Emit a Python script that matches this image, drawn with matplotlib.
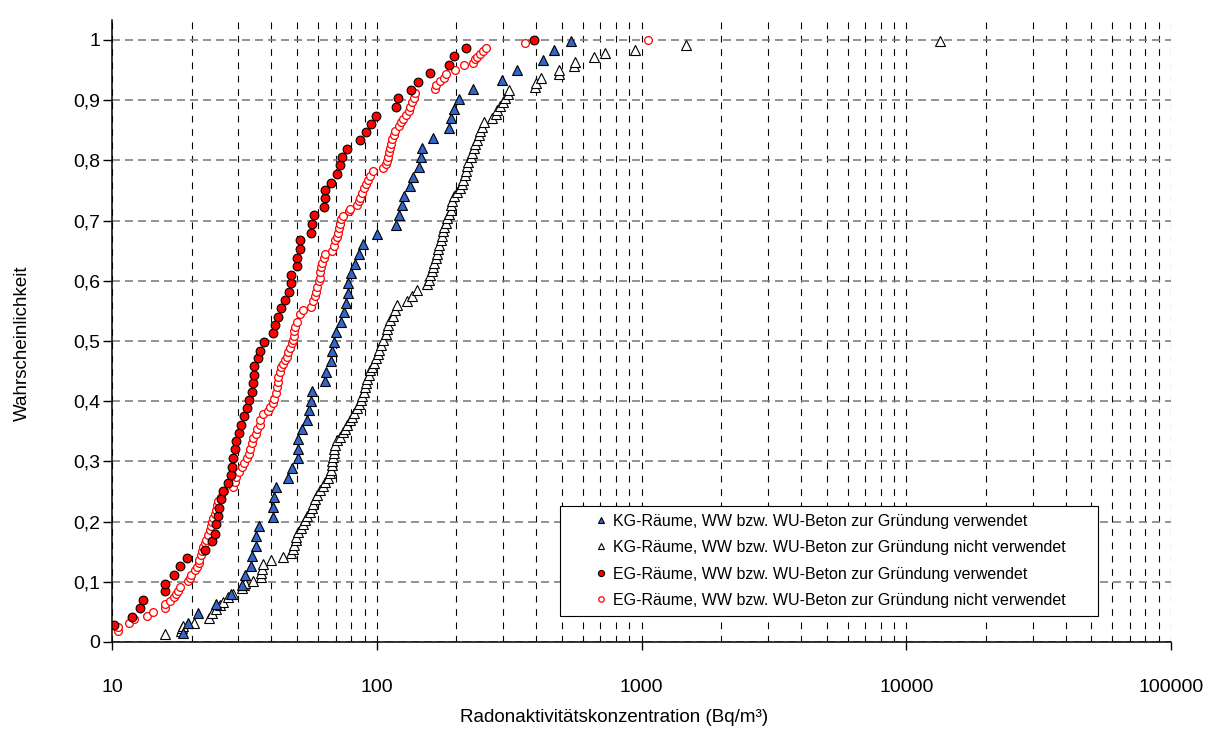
import matplotlib.pyplot as plt
from matplotlib.ticker import FixedLocator, FixedFormatter, LogLocator, NullFormatter

plt.rcParams['font.family'] = ['Liberation Sans', 'DejaVu Sans']

# KG-Räume, WW bzw. WU-Beton verwendet (blaue Dreiecke)
kg_ww_x = [18.5, 19.3, 21.2, 24.7, 28.1, 31.1, 31.8, 33.5, 33.7, 34.9,
           35.1, 36.0, 40.6, 40.7, 41.0, 41.8, 46.2, 47.7, 50.2, 50.2,
           50.4, 52.4, 54.7, 55.6, 56.4, 56.9, 63.7, 64.3, 67.2, 68.0,
           69.1, 70.3, 73.4, 75.4, 76.7, 77.8, 78.2, 80.1, 82.7, 85.9,
           88.7, 100, 118, 121, 125, 127, 134, 137, 145, 147,
           148, 163, 188, 190, 196, 204, 231, 297, 340, 424,
           468, 542]
kg_ww_y = [0.015, 0.031, 0.048, 0.063, 0.080, 0.095, 0.111, 0.127, 0.143, 0.160,
           0.176, 0.192, 0.208, 0.224, 0.240, 0.257, 0.273, 0.289, 0.305, 0.321,
           0.337, 0.353, 0.369, 0.385, 0.401, 0.417, 0.433, 0.449, 0.466, 0.483,
           0.499, 0.515, 0.531, 0.548, 0.563, 0.580, 0.597, 0.612, 0.628, 0.645,
           0.661, 0.677, 0.693, 0.709, 0.725, 0.741, 0.757, 0.773, 0.789, 0.805,
           0.821, 0.837, 0.854, 0.870, 0.886, 0.902, 0.918, 0.933, 0.950, 0.966,
           0.983, 0.998]

# KG-Räume, nicht verwendet (offene Dreiecke)
kg_nww_x = [15.9, 18.2, 18.4, 18.6, 20.4, 23.3, 23.9, 24.8, 25.5, 26.3,
            27.4, 28.6, 30.9, 31.4, 31.8, 34.2, 36.4, 36.6, 36.9, 37.1,
            39.7, 44.1, 47.6, 48.3, 48.8, 49.4, 49.7, 50.6, 51.7, 52.6,
            53.7, 54.7, 56.0, 56.7, 57.5, 58.5, 59.7, 61.1, 62.6, 63.9,
            65.7, 66.7, 67.2, 67.5, 68.0, 68.4, 68.9, 69.2, 69.7, 70.9,
            72.8, 74.4, 76.0, 77.4, 79.2, 80.9, 82.3, 83.9, 85.6, 87.0,
            88.3, 89.4, 90.5, 91.2, 91.8, 93.1, 94.5, 96.3, 98.0, 99.6,
            101, 102, 104, 106, 108, 109, 110, 112, 115, 117,
            119, 130, 136, 142, 155, 157, 159, 161, 163, 165,
            167, 169, 170, 172, 175, 176, 178, 179, 182, 184,
            187, 190, 191, 192, 195, 201, 207, 210, 212, 215,
            218, 219, 222, 226, 229, 232, 236, 239, 243, 246,
            250, 255, 273, 281, 285, 293, 299, 306, 312, 317,
            395, 401, 418, 487, 490, 555, 563, 660, 731, 949, 1479, 13420]
kg_nww_y = [0.013, 0.018, 0.023, 0.027, 0.032, 0.040, 0.048, 0.055, 0.061, 0.066,
            0.075, 0.080, 0.090, 0.095, 0.098, 0.101, 0.108, 0.115, 0.122, 0.129,
            0.137, 0.141, 0.148, 0.154, 0.161, 0.169, 0.175, 0.183, 0.189, 0.196,
            0.203, 0.209, 0.216, 0.223, 0.230, 0.237, 0.244, 0.252, 0.259, 0.266,
            0.272, 0.280, 0.286, 0.294, 0.300, 0.307, 0.314, 0.321, 0.328, 0.335,
            0.341, 0.348, 0.354, 0.361, 0.368, 0.374, 0.381, 0.388, 0.395, 0.402,
            0.409, 0.416, 0.423, 0.430, 0.436, 0.443, 0.451, 0.457, 0.464, 0.471,
            0.478, 0.485, 0.493, 0.502, 0.512, 0.520, 0.527, 0.534, 0.542, 0.551,
            0.559, 0.567, 0.575, 0.585, 0.594, 0.601, 0.609, 0.616, 0.622, 0.630,
            0.637, 0.645, 0.652, 0.660, 0.667, 0.674, 0.682, 0.689, 0.696, 0.704,
            0.711, 0.718, 0.726, 0.733, 0.740, 0.747, 0.754, 0.761, 0.768, 0.776,
            0.783, 0.790, 0.798, 0.805, 0.812, 0.820, 0.827, 0.834, 0.842, 0.849,
            0.856, 0.864, 0.871, 0.877, 0.883, 0.890, 0.896, 0.903, 0.910, 0.916,
            0.922, 0.929, 0.937, 0.943, 0.950, 0.957, 0.964, 0.972, 0.978, 0.984, 0.991, 0.998]

# EG-Räume, verwendet (rote Punkte)
eg_ww_x = [10.2, 11.9, 12.8, 13.1, 15.8, 15.8, 17.1, 18.0, 19.2, 22.5,
           23.9, 24.4, 24.7, 25.1, 25.4, 25.8, 26.2, 27.5, 28.2, 28.5,
           28.7, 29.2, 29.4, 30.3, 30.7, 31.4, 32.4, 32.8, 33.8, 34.2,
           34.4, 34.5, 35.6, 36.1, 37.4, 40.7, 41.2, 42.3, 43.3, 45.1,
           46.7, 47.4, 47.5, 50.0, 50.0, 51.1, 51.1, 56.5, 56.9, 58.0,
           63.3, 64.0, 64.0, 67.1, 70.9, 72.8, 73.6, 77.2, 86.1, 90.7,
           94.8, 99.3, 117.8, 119.9, 134.7, 143.2, 158.9, 186.8, 196.3, 217.4,
           391.5]
eg_ww_y = [0.029, 0.042, 0.056, 0.070, 0.084, 0.097, 0.111, 0.126, 0.139, 0.153,
           0.167, 0.180, 0.196, 0.209, 0.223, 0.237, 0.250, 0.264, 0.277, 0.291,
           0.306, 0.320, 0.333, 0.347, 0.361, 0.375, 0.388, 0.402, 0.416, 0.430,
           0.444, 0.458, 0.472, 0.484, 0.498, 0.513, 0.527, 0.540, 0.554, 0.568,
           0.582, 0.596, 0.609, 0.624, 0.638, 0.653, 0.667, 0.680, 0.694, 0.709,
           0.722, 0.737, 0.750, 0.763, 0.778, 0.792, 0.805, 0.819, 0.833, 0.847,
           0.860, 0.874, 0.889, 0.903, 0.916, 0.930, 0.945, 0.959, 0.973, 0.987,
           1.0]

# EG-Räume, nicht verwendet (offene rote Kreise)
eg_nww_x = [10.5, 10.5, 11.6, 12.1, 13.5, 14.3, 15.8, 15.9, 16.5, 17.2,
            17.5, 17.7, 18.1, 19.4, 19.7, 19.8, 20.6, 20.9, 21.3, 21.4,
            21.7, 21.8, 22.1, 22.5, 22.7, 23.1, 23.5, 23.6, 23.8, 24.0,
            24.5, 24.8, 25.0, 25.2, 25.8, 26.4, 28.7, 29.2, 29.5, 30.3,
            30.9, 31.6, 32.3, 32.8, 33.2, 33.7, 34.2, 35.0, 35.4, 36.1,
            36.3, 37.3, 38.7, 39.6, 40.5, 41.0, 41.5, 42.0, 42.2, 42.5,
            43.0, 43.6, 44.4, 45.0, 45.8, 46.4, 47.1, 47.8, 48.2, 48.5,
            48.8, 49.2, 49.9, 51.4, 52.5, 56.4, 57.3, 58.2, 58.8, 59.4,
            60.3, 60.8, 61.1, 61.5, 62.0, 63.0, 63.9, 67.7, 69.1, 69.7,
            70.7, 71.3, 72.1, 72.8, 73.4, 74.3, 78.7, 79.4, 84.2, 85.5,
            86.7, 88.0, 89.7, 91.4, 92.6, 94.7, 96.7, 106, 108, 109,
            110, 111, 112, 113, 114, 116, 117, 121, 123, 126,
            129, 132, 134, 136, 138, 140, 166, 168, 174, 179,
            183, 198, 213, 231, 235, 240, 246, 253, 259, 363, 1057]
eg_nww_y = [0.018, 0.025, 0.031, 0.038, 0.043, 0.049, 0.056, 0.063, 0.068, 0.074,
            0.080, 0.085, 0.092, 0.101, 0.107, 0.112, 0.119, 0.125, 0.132, 0.137,
            0.144, 0.151, 0.158, 0.165, 0.170, 0.177, 0.186, 0.192, 0.200, 0.206,
            0.213, 0.220, 0.227, 0.234, 0.241, 0.251, 0.258, 0.266, 0.274, 0.282,
            0.290, 0.297, 0.305, 0.313, 0.321, 0.330, 0.338, 0.345, 0.353, 0.361,
            0.368, 0.379, 0.384, 0.390, 0.397, 0.404, 0.413, 0.423, 0.432, 0.440,
            0.448, 0.456, 0.462, 0.468, 0.474, 0.481, 0.489, 0.496, 0.502, 0.509,
            0.516, 0.523, 0.531, 0.545, 0.551, 0.557, 0.566, 0.574, 0.582, 0.590,
            0.599, 0.605, 0.614, 0.622, 0.629, 0.638, 0.645, 0.650, 0.658, 0.667,
            0.673, 0.680, 0.688, 0.695, 0.703, 0.708, 0.716, 0.719, 0.725, 0.732,
            0.738, 0.745, 0.754, 0.761, 0.767, 0.774, 0.782, 0.787, 0.794, 0.799,
            0.806, 0.813, 0.820, 0.827, 0.835, 0.842, 0.849, 0.857, 0.863, 0.868,
            0.876, 0.882, 0.889, 0.896, 0.904, 0.911, 0.918, 0.925, 0.931, 0.937,
            0.944, 0.950, 0.958, 0.962, 0.968, 0.972, 0.976, 0.982, 0.987, 0.994, 1.0]

labels = ["KG-Räume, WW bzw. WU-Beton zur Gründung verwendet",
          "KG-Räume, WW bzw. WU-Beton zur Gründung nicht verwendet",
          "EG-Räume, WW bzw. WU-Beton zur Gründung verwendet",
          "EG-Räume, WW bzw. WU-Beton zur Gründung nicht verwendet"]

x_ticks = [10, 100, 1000, 10000, 100000]
x_tick_labels = ["10", "100", "1000", "10000", "100000"]
y_ticks = [0, 0.1, 0.2, 0.3, 0.4, 0.5, 0.6, 0.7, 0.8, 0.9, 1.0]
y_tick_labels = ["0", "0,1", "0,2", "0,3", "0,4", "0,5", "0,6", "0,7", "0,8", "0,9", "1"]

fig = plt.figure(figsize=(12.22, 7.31), dpi=100)
ax = fig.add_axes([112 / 1222, 89 / 731, 1059 / 1222, 622 / 731])

h2, = ax.plot(kg_nww_x, kg_nww_y, ls='none', marker='^', ms=6.8, mfc='white',
              mec='black', mew=0.8, label=labels[1])
h1, = ax.plot(kg_ww_x, kg_ww_y, ls='none', marker='^', ms=6.8, mfc='#3366CC',
              mec='black', mew=0.8, label=labels[0])
h4, = ax.plot(eg_nww_x, eg_nww_y, ls='none', marker='o', ms=5.6, mfc='white',
              mec='#FF0000', mew=0.9, label=labels[3])
h3, = ax.plot(eg_ww_x, eg_ww_y, ls='none', marker='o', ms=6.3, mfc='#FF0000',
              mec='black', mew=0.8, label=labels[2])

ax.set_xscale('log')
ax.set_xlim(10, 100000)
ax.set_ylim(0, 1.033)

ax.xaxis.set_major_locator(FixedLocator(x_ticks))
ax.xaxis.set_major_formatter(FixedFormatter(x_tick_labels))
ax.xaxis.set_minor_locator(LogLocator(base=10, subs=range(2, 10)))
ax.xaxis.set_minor_formatter(NullFormatter())
ax.yaxis.set_major_locator(FixedLocator(y_ticks))
ax.yaxis.set_major_formatter(FixedFormatter(y_tick_labels))

ax.grid(True, which='both', axis='x', color='black', lw=0.8, ls=(0, (6, 6)))
ax.grid(True, which='major', axis='y', color='#808080', lw=1.2, ls=(0, (4.8, 3)))
ax.set_axisbelow(True)

ax.tick_params(axis='x', which='major', direction='out', length=6, width=1,
               pad=21, labelsize=14)
ax.tick_params(axis='x', which='minor', length=0)
ax.tick_params(axis='y', which='major', direction='out', length=6.5, width=1,
               pad=2, labelsize=14)

for s in ['top', 'right']:
    ax.spines[s].set_visible(False)
for s in ['left', 'bottom']:
    ax.spines[s].set_linewidth(1.1)

ax.set_xlabel("Radonaktivitätskonzentration (Bq/m³)", fontsize=13.5, va='center')
ax.xaxis.set_label_coords(0.474, -0.122)
ax.set_ylabel("Wahrscheinlichkeit", fontsize=13.5, va='center')
ax.yaxis.set_label_coords(-0.085, 0.48)

leg = ax.legend(handles=[h1, h2, h3, h4], loc='lower left',
                bbox_to_anchor=(0.423, 0.0418, 0.508, 0.2), mode='expand',
                borderaxespad=0, fontsize=11.5, markerscale=0.7,
                handlelength=4.2, handletextpad=-1.4, labelspacing=0.72,
                borderpad=0.5, fancybox=False, framealpha=1)
leg.get_frame().set_edgecolor('black')
leg.get_frame().set_linewidth(0.8)

plt.savefig("out.png", dpi=100)
